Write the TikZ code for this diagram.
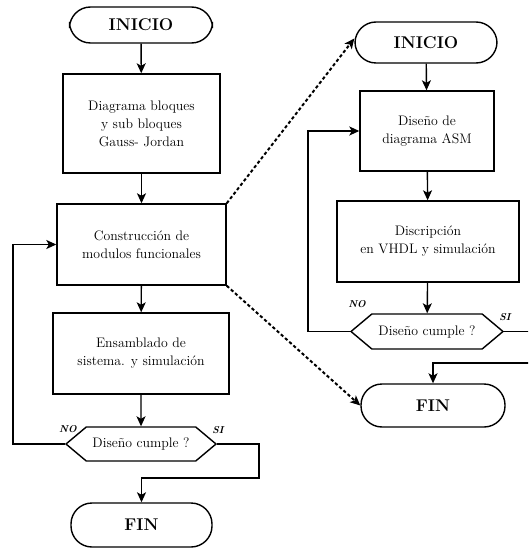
\documentclass[tikz,border=0pt]{standalone}
\usetikzlibrary{shapes.symbols,arrows.meta}
\begin{document}
\begin{tikzpicture}[x=1pt,y=-1pt,
  every node/.style={align=center,font=\fontsize{13.8}{18}\selectfont},
  term/.style={draw,line width=1.4pt,rounded corners=21pt,font=\fontsize{17}{20}\selectfont\bfseries,inner sep=0pt},
  procbox/.style={draw,line width=1.4pt,inner sep=0pt},
  decis/.style={draw,line width=1.4pt,signal,signal to=west and east,signal pointer angle=80,inner sep=0pt,font=\fontsize{13.8}{16}\selectfont},
  lbl/.style={font=\fontsize{10}{11}\selectfont\bfseries\itshape},
  arr/.style={line width=1.4pt,-{Stealth[length=10pt,width=9pt,inset=2.5pt]}},
  ln/.style={line width=1.4pt},
  dots/.style={line width=2pt,dash pattern=on 3.2pt off 2.4pt,-{Stealth[length=10pt,width=9pt,inset=2.5pt]}}]
\fill[white] (0,0) rectangle (528,548);
\clip (0,0) rectangle (528,548);
% left column
\node[term,minimum width=143pt,minimum height=36pt] (ini1) at (141,25) {INICIO};
\node[procbox,minimum width=157pt,minimum height=99pt] (b1) at (141.5,123.5) {Diagrama bloques\\ y sub bloques\\ Gauss- Jordan};
\node[procbox,minimum width=169pt,minimum height=81pt] (b2) at (141.5,244.5) {Construcción de\\ modulos funcionales};
\node[procbox,minimum width=176pt,minimum height=81pt] (b3) at (141,353.5) {Ensamblado de\\ sistema. y simulación};
\node[decis,minimum width=150pt,minimum height=34pt] (h1) at (141,444) {Diseño cumple ?};
\node[term,minimum width=141pt,minimum height=44pt] (fin1) at (141.5,525) {FIN};
\node[lbl] (no1) at (68,429) {NO};
\node[lbl] (si1) at (218,430) {SI};
\draw[arr] (ini1) -- (b1);
\draw[arr] (b1) -- (b2);
\draw[arr] (b2) -- (b3);
\draw[arr] (b3) -- (h1);
\coordinate (l1) at (13,444);
\draw[arr] (h1.west) -- (l1) |- (b2.west);
\coordinate (s1) at (259,444);
\coordinate (s2) at (259,478);
\draw[arr] (h1.east) -- (s1) -- (s2) -| (fin1.north);
% right column
\node[term,minimum width=142pt,minimum height=41pt] (ini2) at (426,42.5) {INICIO};
\node[procbox,minimum width=134pt,minimum height=80pt] (r1) at (427,131) {Diseño de\\ diagrama ASM};
\node[procbox,minimum width=182pt,minimum height=81pt] (r2) at (428,241.5) {Discripción\\ en VHDL y simulación};
\node[decis,minimum width=152pt,minimum height=35pt] (h2) at (427,331.5) {Diseño cumple ?};
\node[term,minimum width=144pt,minimum height=43pt] (fin2) at (433,405.5) {FIN};
\node[lbl] (no2) at (357,304) {NO};
\node[lbl] (si2) at (505,317) {SI};
\draw[arr] (ini2) -- (r1);
\draw[arr] (r1) -- (r2);
\draw[arr] (r2) -- (h2);
\coordinate (l2) at (308,331.5);
\draw[arr] (h2.west) -- (l2) |- (r1.west);
\coordinate (e1) at (532,331.5);
\draw[ln] (h2.east) -- (e1);
\coordinate (e2) at (532,363);
\draw[arr] (e2) -| (fin2.north);
% dotted links
\draw[dots] (b2.north east) -- ([yshift=4pt]ini2.west);
\draw[dots] (b2.south east) -- (fin2.west);
\end{tikzpicture}
\end{document}
